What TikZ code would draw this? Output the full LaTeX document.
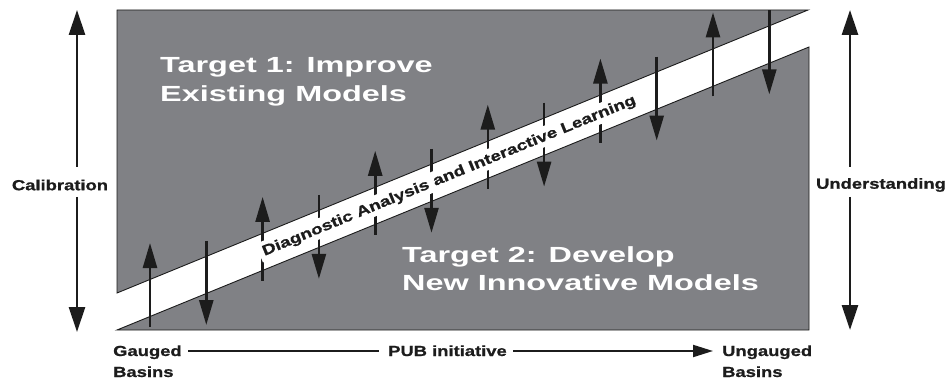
\documentclass[tikz,border=0pt]{standalone}
\usepackage{fontspec}
\setmainfont{Liberation Sans}
\newfontfamily\titlefont[FakeStretch=1.48]{Liberation Sans Bold}
\newfontfamily\labelfont[FakeStretch=1.26,FakeBold=1]{Liberation Sans Bold}
\newfontfamily\bandfont[FakeStretch=1.3,FakeBold=1]{Liberation Sans Bold}
\usetikzlibrary{arrows.meta}
\definecolor{panelgray}{RGB}{128,129,133}
\definecolor{inkblack}{RGB}{28,28,28}
\begin{document}
\begin{tikzpicture}[x=1pt,y=-1pt,
  panel/.style={fill=panelgray, draw=inkblack, line width=0.9pt, line join=miter},
  smallarrow/.style={draw=inkblack, line width=2.6pt, -{Triangle[length=25pt,width=14pt]}},
  bigarrow/.style={draw=inkblack, line width=2.8pt, -{Triangle[length=25pt,width=16pt]}},
  plainline/.style={draw=inkblack, line width=2.8pt},
  hline/.style={draw=inkblack, line width=2pt},
  harrow/.style={draw=inkblack, line width=2pt, -{Triangle[length=20pt,width=12pt]}},
  titletext/.style={text=white, inner sep=0pt, anchor=base west, font=\titlefont\fontsize{21.9}{26}\selectfont},
  labeltext/.style={text=inkblack, inner sep=0pt, font=\labelfont\fontsize{14.6}{17}\selectfont},
  bandtext/.style={text=inkblack, fill=white, inner xsep=4pt, inner ysep=0pt,
     minimum height=20pt, text height=10pt, text depth=1pt, rotate=22.27,
     font=\bandfont\fontsize{14.5}{16}\selectfont}
]
\useasboundingbox (0,0) rectangle (952,379);

% panels
\path[panel] (117,10) -- (808,10) -- (117,293) -- cycle;
\path[panel] (117,330) -- (809,47) -- (809,330) -- cycle;

% small vertical arrows across the band
\foreach \i in {0,...,5} {
  \coordinate (upS\i) at ({150+112.6*\i},{327-46.12*\i});
  \coordinate (upE\i) at ({150+112.6*\i},{243-46.12*\i});
  \draw[smallarrow] (upS\i) -- (upE\i);
  \coordinate (dnS\i) at ({206.3+112.6*\i},{241-46.12*\i});
  \coordinate (dnE\i) at ({206.3+112.6*\i},{325-46.12*\i});
  \draw[smallarrow] (dnS\i) -- (dnE\i);
}

% band text
\node[bandtext] (band) at (449,175.5) {Diagnostic Analysis and Interactive Learning};

% titles
\node[titletext] (t1a) at (160,72.3) {Target 1: Improve};
\node[titletext] (t1b) at (160,102) {Existing Models};
\node[titletext] (t2a) at (402,262) {Target 2: Develop};
\node[titletext] (t2b) at (402,290.5) {New Innovative Models};

% side scales
\node[labeltext] (cal) at (60,185) {Calibration};
\coordinate (calTop) at (77,10);
\coordinate (calBot) at (77,332);
\coordinate (calA) at (77,167);
\coordinate (calB) at (77,197);
\draw[bigarrow] (calA) -- (calTop);
\draw[bigarrow] (calB) -- (calBot);

\node[labeltext] (und) at (881,185) {Understanding};
\coordinate (undTop) at (850,10);
\coordinate (undBot) at (850,330);
\coordinate (undA) at (850,167);
\coordinate (undB) at (850,197);
\draw[bigarrow] (undA) -- (undTop);
\draw[bigarrow] (undB) -- (undBot);

% bottom axis
\node[labeltext, anchor=base west] (gauged) at (113,356) {Gauged};
\node[labeltext, anchor=base west] (gbasins) at (113,377) {Basins};
\node[labeltext, anchor=base west] (pub) at (388,356) {PUB initiative};
\node[labeltext, anchor=base west] (ungauged) at (722,356) {Ungauged};
\node[labeltext, anchor=base west] (ubasins) at (722,377) {Basins};
\coordinate (h1) at (188,351);
\coordinate (h2) at (379,351);
\coordinate (h3) at (513,351);
\coordinate (h4) at (713,351);
\draw[hline] (h1) -- (h2);
\draw[harrow] (h3) -- (h4);
\end{tikzpicture}
\end{document}
